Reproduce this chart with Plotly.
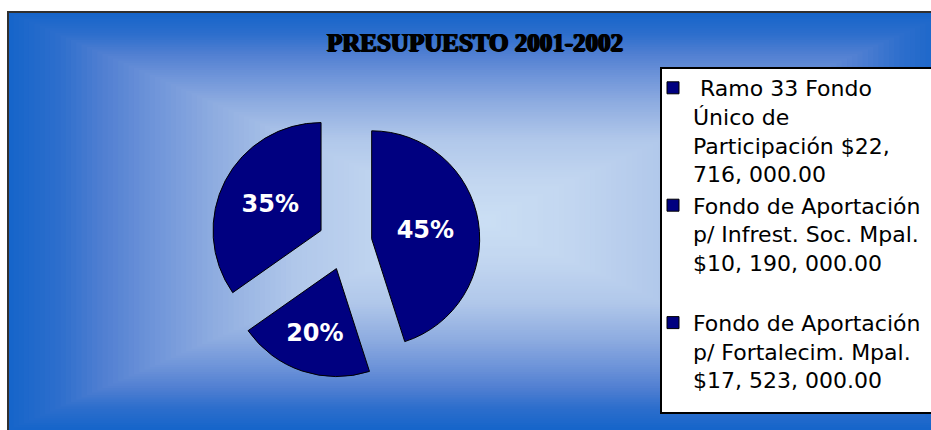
import plotly.graph_objects as go

# ---- data ----
labels = [
    "\u00a0Ramo 33 Fondo<br>Único de<br>Participación $22,<br>716, 000.00",
    "Fondo de Aportación<br>p/ Infrest. Soc. Mpal.<br>$10, 190, 000.00<br>\u00a0",
    "Fondo de Aportación<br>p/ Fortalecim. Mpal.<br>$17, 523, 000.00",
]
values = [22716000, 10190000, 17523000]
title_text = "PRESUPUESTO 2001-2002"

W, H = 931, 430


def px_x(x):
    return x / W


def px_y(y):
    return 1 - y / H


# rectangular "from centre" gradient background (style only)
stops = [
    (0.00, (203, 223, 244)),
    (0.20, (194, 214, 240)),
    (0.40, (176, 199, 234)),
    (0.57, (142, 172, 224)),
    (0.70, (110, 148, 217)),
    (0.80, (82, 128, 210)),
    (0.90, (45, 110, 204)),
    (1.00, (22, 101, 202)),
]


def grad(t):
    for (t0, c0), (t1, c1) in zip(stops[:-1], stops[1:]):
        if t0 <= t <= t1:
            f = (t - t0) / (t1 - t0)
            return "rgb(%d,%d,%d)" % tuple(round(a + (b - a) * f) for a, b in zip(c0, c1))
    return "rgb(%d,%d,%d)" % stops[-1][1]


cx, cy, hw, hh = 480, 221, 472, 209
shapes = []
N = 90
for k in range(N, 0, -1):
    t = k / N
    shapes.append(dict(
        type="rect", xref="paper", yref="paper", layer="below",
        x0=px_x(cx - t * hw), x1=px_x(cx + t * hw + 40 * (k == N)),
        y0=px_y(cy + t * hh + 20 * (k == N)), y1=px_y(cy - t * hh),
        fillcolor=grad(t), line=dict(width=0),
    ))
# outer frame
shapes.append(dict(type="rect", xref="paper", yref="paper", layer="below",
                   x0=px_x(8), x1=px_x(1000), y0=px_y(500), y1=px_y(12),
                   line=dict(color="#303030", width=2), fillcolor="rgba(0,0,0,0)"))
# legend box
shapes.append(dict(type="rect", xref="paper", yref="paper", layer="above",
                   x0=px_x(661), x1=px_x(990), y0=px_y(413), y1=px_y(68),
                   line=dict(color="#000000", width=2), fillcolor="#ffffff"))

fig = go.Figure(go.Pie(
    labels=labels,
    values=values,
    sort=False,
    direction="clockwise",
    rotation=0,
    pull=[0.25, 0.25, 0.25],
    marker=dict(colors=["#000080", "#000080", "#000080"], line=dict(color="#000000", width=1)),
    texttemplate="%{percent:.0%}",
    textposition="inside",
    insidetextorientation="horizontal",
    textfont=dict(family="DejaVu Sans", size=24, color="white", weight="bold"),
    domain=dict(x=[px_x(210), px_x(480)], y=[px_y(378), px_y(108)]),
    hoverinfo="skip",
))

fig.update_layout(
    width=W, height=H,
    margin=dict(l=0, r=0, t=0, b=0),
    paper_bgcolor="white",
    plot_bgcolor="white",
    shapes=shapes,
    title=dict(
        text=title_text, x=px_x(475), xanchor="center", y=px_y(42), yanchor="middle",
        font=dict(family="Liberation Serif", size=25, color="black", weight="bold",
                  shadow="1px 0px 0px #000, -1px 0px 0px #000, 0px 1px 0px #000"),
    ),
    legend=dict(
        x=px_x(653), y=px_y(67), xanchor="left", yanchor="top",
        bgcolor="rgba(0,0,0,0)", borderwidth=0,
        font=dict(family="DejaVu Sans", size=22, color="black"),
        valign="top", itemwidth=30, tracegroupgap=0,
    ),
)

fig.write_html("out.html")
